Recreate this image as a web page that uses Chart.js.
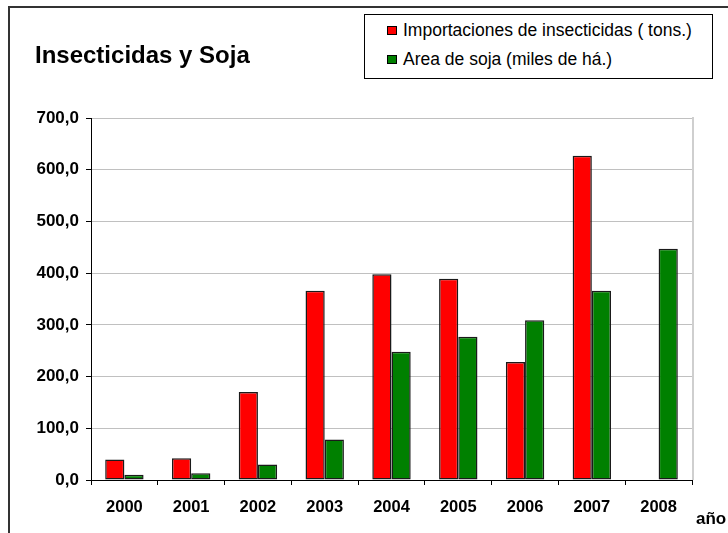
<!DOCTYPE html>
<html>
<head>
<meta charset="utf-8">
<script src="https://cdn.jsdelivr.net/npm/chart.js@4/dist/chart.umd.min.js"></script>
<style>
  html, body { margin: 0; padding: 0; background: #fff; overflow: hidden; }
  #wrap { position: relative; width: 728px; height: 533px; overflow: hidden; font-family: Arial, "Liberation Sans", sans-serif; }
  #frame { position: absolute; left: 8px; top: 6px; width: 800px; height: 600px; border: 2px solid #333; box-sizing: border-box; }
  #title { position: absolute; left: 35px; top: 43px; font-size: 24px; font-weight: bold; line-height: 1; white-space: nowrap; }
  #legend { position: absolute; left: 364px; top: 14px; width: 349px; height: 65px; border: 1px solid #000; box-sizing: border-box; background: #fff; }
  .item { position: absolute; left: 22px; font-size: 17.5px; line-height: 1; white-space: nowrap; }
  .swatch { display: inline-block; width: 8px; height: 7px; border: 1px solid #000; margin-right: 6px; vertical-align: 1px; }
  #xname { position: absolute; left: 696px; top: 510px; font-size: 17px; font-weight: bold; line-height: 1; }
  canvas { position: absolute; left: 0; top: 0; }
</style>
</head>
<body>
<div id="wrap">
  <div id="frame"></div>
  <canvas id="chart" width="728" height="533"></canvas>
  <div id="title">Insecticidas y Soja</div>
  <div id="legend"></div>
  <div id="xname">año</div>
</div>
<script>
// data
const years = ['2000', '2001', '2002', '2003', '2004', '2005', '2006', '2007', '2008'];
const importaciones = [39.5, 42, 170, 366, 398, 389, 228, 627, null];
const areaSoja = [10, 13, 30, 78.5, 248, 277, 309, 366, 447];
const seriesNames = ['Importaciones de insecticidas ( tons.)', 'Area de soja (miles de há.)'];
const seriesColors = ['#ff0000', '#008000'];

const tickFont = { family: 'Arial, "Liberation Sans", sans-serif', size: 16.5, weight: 'bold' };

// gray border on the right side of the plot area
const plotBorder = {
  id: 'plotBorder',
  afterDraw(chart) {
    const { ctx, chartArea } = chart;
    ctx.save();
    ctx.strokeStyle = '#cfcfcf';
    ctx.lineWidth = 2;
    ctx.beginPath();
    ctx.moveTo(chartArea.right + 1, chartArea.top - 1);
    ctx.lineTo(chartArea.right + 1, chartArea.bottom);
    ctx.stroke();
    ctx.restore();
  }
};

const chart = new Chart(document.getElementById('chart'), {
  type: 'bar',
  data: {
    labels: years,
    datasets: [
      { label: seriesNames[0], data: importaciones, backgroundColor: seriesColors[0], borderColor: '#1a1a1a', borderWidth: 1.5, borderSkipped: false },
      { label: seriesNames[1], data: areaSoja, backgroundColor: seriesColors[1], borderColor: '#1a1a1a', borderWidth: 1.5, borderSkipped: false }
    ]
  },
  options: {
    responsive: false,
    animation: false,
    layout: { padding: { left: 0, top: 118, right: 36, bottom: 0 } },
    datasets: { bar: { categoryPercentage: 0.575, barPercentage: 1 } },
    plugins: { legend: { display: false }, title: { display: false }, tooltip: { enabled: false } },
    scales: {
      x: {
        grid: { offset: true, drawOnChartArea: false, tickLength: 5, tickColor: '#000' },
        border: { color: '#000', width: 1 },
        ticks: { color: '#000', font: tickFont, padding: 13, maxRotation: 0 },
        afterFit(scale) { scale.height = 53; }
      },
      y: {
        min: 0,
        max: 700,
        grid: { color: '#c0c0c0', tickColor: '#000', tickLength: 5 },
        border: { color: '#000', width: 1 },
        ticks: {
          stepSize: 100,
          color: '#000',
          font: { family: tickFont.family, size: 17, weight: 'bold' },
          padding: 7,
          callback: (v) => v.toFixed(1).replace('.', ',')
        },
        afterFit(scale) { scale.width = 91; }
      }
    }
  },
  plugins: [plotBorder]
});

// legend built from the datasets
const legendBox = document.getElementById('legend');
chart.data.datasets.forEach((ds, i) => {
  const row = document.createElement('div');
  row.className = 'item';
  row.style.top = (i === 0 ? 7 : 36) + 'px';
  row.innerHTML = '<span class="swatch" style="background:' + ds.backgroundColor + '"></span>' + ds.label;
  legendBox.appendChild(row);
});
</script>
</body>
</html>
